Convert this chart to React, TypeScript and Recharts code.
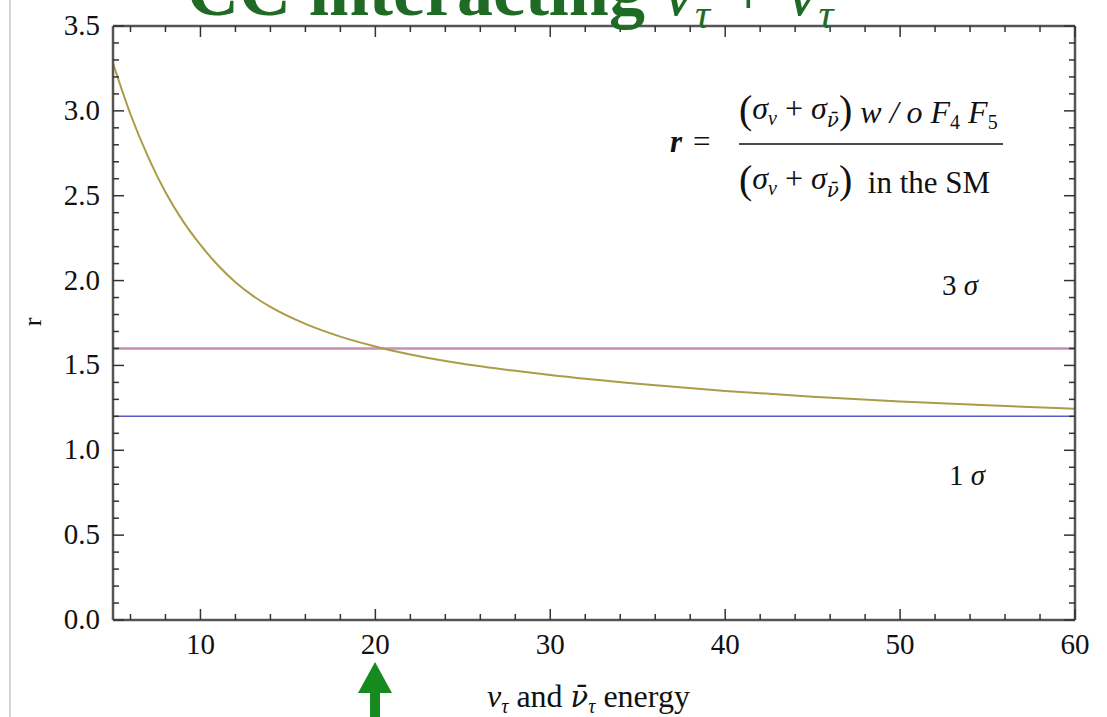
import { LineChart, Line, XAxis, YAxis, ReferenceLine } from 'recharts';

// neutrino energy (GeV) and ratio r
const energy = [5, 6, 7, 8, 9, 10, 11, 12, 13, 14, 16, 18, 20, 22, 25, 28, 30, 35, 40, 45, 50, 55, 60];
const ratio = [
  3.28, 2.98, 2.73, 2.52, 2.35, 2.21, 2.09, 1.99, 1.91, 1.845, 1.745, 1.67, 1.612, 1.565, 1.51, 1.468,
  1.443, 1.392, 1.35, 1.316, 1.288, 1.265, 1.245,
];

const threeSigma = 1.6;
const oneSigma = 1.2;

const xTicks = [6, 8, 10, 12, 14, 16, 18, 20, 22, 24, 26, 28, 30, 32, 34, 36, 38, 40, 42, 44, 46, 48, 50, 52, 54, 56, 58, 60];
const yTicks = [
  0, 0.1, 0.2, 0.3, 0.4, 0.5, 0.6, 0.7, 0.8, 0.9, 1.0, 1.1, 1.2, 1.3, 1.4, 1.5, 1.6, 1.7,
  1.8, 1.9, 2.0, 2.1, 2.2, 2.3, 2.4, 2.5, 2.6, 2.7, 2.8, 2.9, 3.0, 3.1, 3.2, 3.3, 3.4, 3.5,
];

const data = energy.map((e, i) => ({ e, r: ratio[i] }));

const SERIF = '"Liberation Serif", "DejaVu Serif", serif';
const TICK = '#333';
const FRAME = { stroke: '#555', strokeWidth: 2.5 };

const isMajorX = (v: number) => v % 10 === 0;
const isMajorY = (v: number) => Math.round(v * 10) % 5 === 0;

const BottomTick = (props: any) => {
  const { x, y, payload } = props;
  const major = isMajorX(payload.value);
  return (
    <g>
      <line x1={x} x2={x} y1={y} y2={y - (major ? 11 : 6)} stroke={TICK} strokeWidth={1.5} />
      {major && (
        <text x={x} y={y + 34} textAnchor="middle" fontFamily={SERIF} fontSize={29} fill="#111">
          {payload.value}
        </text>
      )}
    </g>
  );
};

const TopTick = (props: any) => {
  const { x, y, payload } = props;
  const major = isMajorX(payload.value);
  return <line x1={x} x2={x} y1={y} y2={y + (major ? 11 : 6)} stroke={TICK} strokeWidth={1.5} />;
};

const LeftTick = (props: any) => {
  const { x, y, payload } = props;
  const major = isMajorY(payload.value);
  return (
    <g>
      <line x1={x} x2={x + (major ? 11 : 6)} y1={y} y2={y} stroke={TICK} strokeWidth={1.5} />
      {major && (
        <text x={x - 13} y={y + 9} textAnchor="end" fontFamily={SERIF} fontSize={29} fill="#111">
          {payload.value.toFixed(1)}
        </text>
      )}
    </g>
  );
};

const RightTick = (props: any) => {
  const { x, y, payload } = props;
  const major = isMajorY(payload.value);
  return <line x1={x} x2={x - (major ? 11 : 6)} y1={y} y2={y} stroke={TICK} strokeWidth={1.5} />;
};

// (σ_ν + σ_ν̄) written with relative shifts so the whole line stays one text chunk
const SigmaSum = () => (
  <>
    <tspan fontSize={40} dy={4}>(</tspan>
    <tspan fontStyle="italic" dy={-4}>σ</tspan>
    <tspan fontStyle="italic" fontSize={20} dy={6}>ν</tspan>
    <tspan dy={-6}>{' + '}</tspan>
    <tspan fontStyle="italic">σ</tspan>
    <tspan fontStyle="italic" fontSize={20} dy={8} fontFamily='"DejaVu Serif", serif'>ν̄</tspan>
    <tspan fontSize={40} dy={-4}>)</tspan>
  </>
);

export default function App() {
  return (
    <div style={{ position: 'absolute', left: 0, top: 0, width: 1107, height: 717, background: '#fff', overflow: 'hidden' }}>
      <div style={{ position: 'absolute', left: 9, top: 0, width: 2, height: 717, background: '#d6d6d6' }} />
      <LineChart width={1107} height={717} data={data} margin={{ top: 25, right: 31, bottom: 67, left: 53 }}>
        <XAxis
          xAxisId="b"
          type="number"
          dataKey="e"
          domain={[5, 60]}
          allowDataOverflow
          ticks={xTicks}
          interval={0}
          height={30}
          tickSize={0}
          tickMargin={0}
          tick={<BottomTick />}
          axisLine={FRAME}
        />
        <XAxis
          xAxisId="t"
          orientation="top"
          type="number"
          dataKey="e"
          domain={[5, 60]}
          allowDataOverflow
          ticks={xTicks}
          interval={0}
          height={1}
          tickSize={0}
          tickMargin={0}
          tick={<TopTick />}
          axisLine={FRAME}
        />
        <YAxis
          yAxisId="l"
          type="number"
          domain={[0, 3.5]}
          allowDataOverflow
          ticks={yTicks}
          interval={0}
          width={60}
          tickSize={0}
          tickMargin={0}
          tick={<LeftTick />}
          axisLine={FRAME}
        />
        <YAxis
          yAxisId="r"
          orientation="right"
          type="number"
          domain={[0, 3.5]}
          allowDataOverflow
          ticks={yTicks}
          interval={0}
          width={1}
          tickSize={0}
          tickMargin={0}
          tick={<RightTick />}
          axisLine={FRAME}
        />
        <ReferenceLine xAxisId="t" yAxisId="r" y={threeSigma} stroke="#c98db2" strokeWidth={2.5} />
        <ReferenceLine xAxisId="b" yAxisId="l" y={oneSigma} stroke="#5c5cd0" strokeWidth={1.5} />
        <Line
          xAxisId="b"
          yAxisId="l"
          type="monotone"
          dataKey="r"
          stroke="#ab9d48"
          strokeWidth={2}
          dot={false}
          isAnimationActive={false}
        />
      </LineChart>
      <svg
        width={1107}
        height={717}
        style={{ position: 'absolute', left: 0, top: 0, pointerEvents: 'none' }}
        fontFamily={SERIF}
      >
        {/* slide title, cut by the top edge */}
        <text x={187} y={15} fontSize={72} fontWeight="bold" fill="#1f6b25">
          CC interacting{' '}
          <tspan fontStyle="italic" fontWeight="normal">ν</tspan>
          <tspan fontStyle="italic" fontWeight="normal" fontSize={42} dy={13}>τ</tspan>
          <tspan fontWeight="normal" dy={-13}>{' + '}</tspan>
          <tspan fontStyle="italic" fontWeight="normal">ν</tspan>
          <tspan fontStyle="italic" fontWeight="normal" fontSize={42} dy={13}>τ</tspan>
        </text>

        {/* ratio definition */}
        <text x={670} y={152} fontSize={31} fontStyle="italic" fontWeight="bold" fill="#111">r</text>
        <text x={693} y={152} fontSize={31} fill="#111">=</text>
        <line x1={739} x2={1003} y1={144} y2={144} stroke="#111" strokeWidth={1.5} />
        <text x={739} y={119} fontSize={32} fill="#111">
          <SigmaSum />
          <tspan fontStyle="italic" dy={0}>{' w / o '}</tspan>
          <tspan fontStyle="italic">F</tspan>
          <tspan fontSize={20} dy={6}>4</tspan>
          <tspan fontStyle="italic" dy={-6}>{' F'}</tspan>
          <tspan fontSize={20} dy={6}>5</tspan>
        </text>
        <text x={739} y={189} fontSize={32} fill="#111">
          <SigmaSum />
          <tspan fontSize={31}>{'\u00a0\u00a0in the SM'}</tspan>
        </text>

        {/* significance labels */}
        <text x={942} y={295} fontSize={29} fill="#111">
          3 <tspan fontStyle="italic">σ</tspan>
        </text>
        <text x={949} y={485} fontSize={29} fill="#111">
          1 <tspan fontStyle="italic">σ</tspan>
        </text>

        {/* axis titles */}
        <text transform="translate(41 322) rotate(-90)" fontSize={26} textAnchor="middle" fill="#111">r</text>
        <text x={487} y={707} fontSize={32} fill="#111">
          <tspan fontStyle="italic">ν</tspan>
          <tspan fontStyle="italic" fontSize={20} dy={6}>τ</tspan>
          <tspan dy={-6}>{' and '}</tspan>
          <tspan fontStyle="italic" fontFamily='"DejaVu Serif", serif' fontSize={29}>ν̄</tspan>
          <tspan fontStyle="italic" fontSize={20} dy={6}>τ</tspan>
          <tspan dy={-6}>{' energy'}</tspan>
        </text>

        {/* green arrow pointing at E = 20 */}
        <polygon points="358,693 375,662 392,693" fill="#168a1c" />
        <rect x={370} y={692} width={10} height={25} fill="#168a1c" />
      </svg>
    </div>
  );
}
